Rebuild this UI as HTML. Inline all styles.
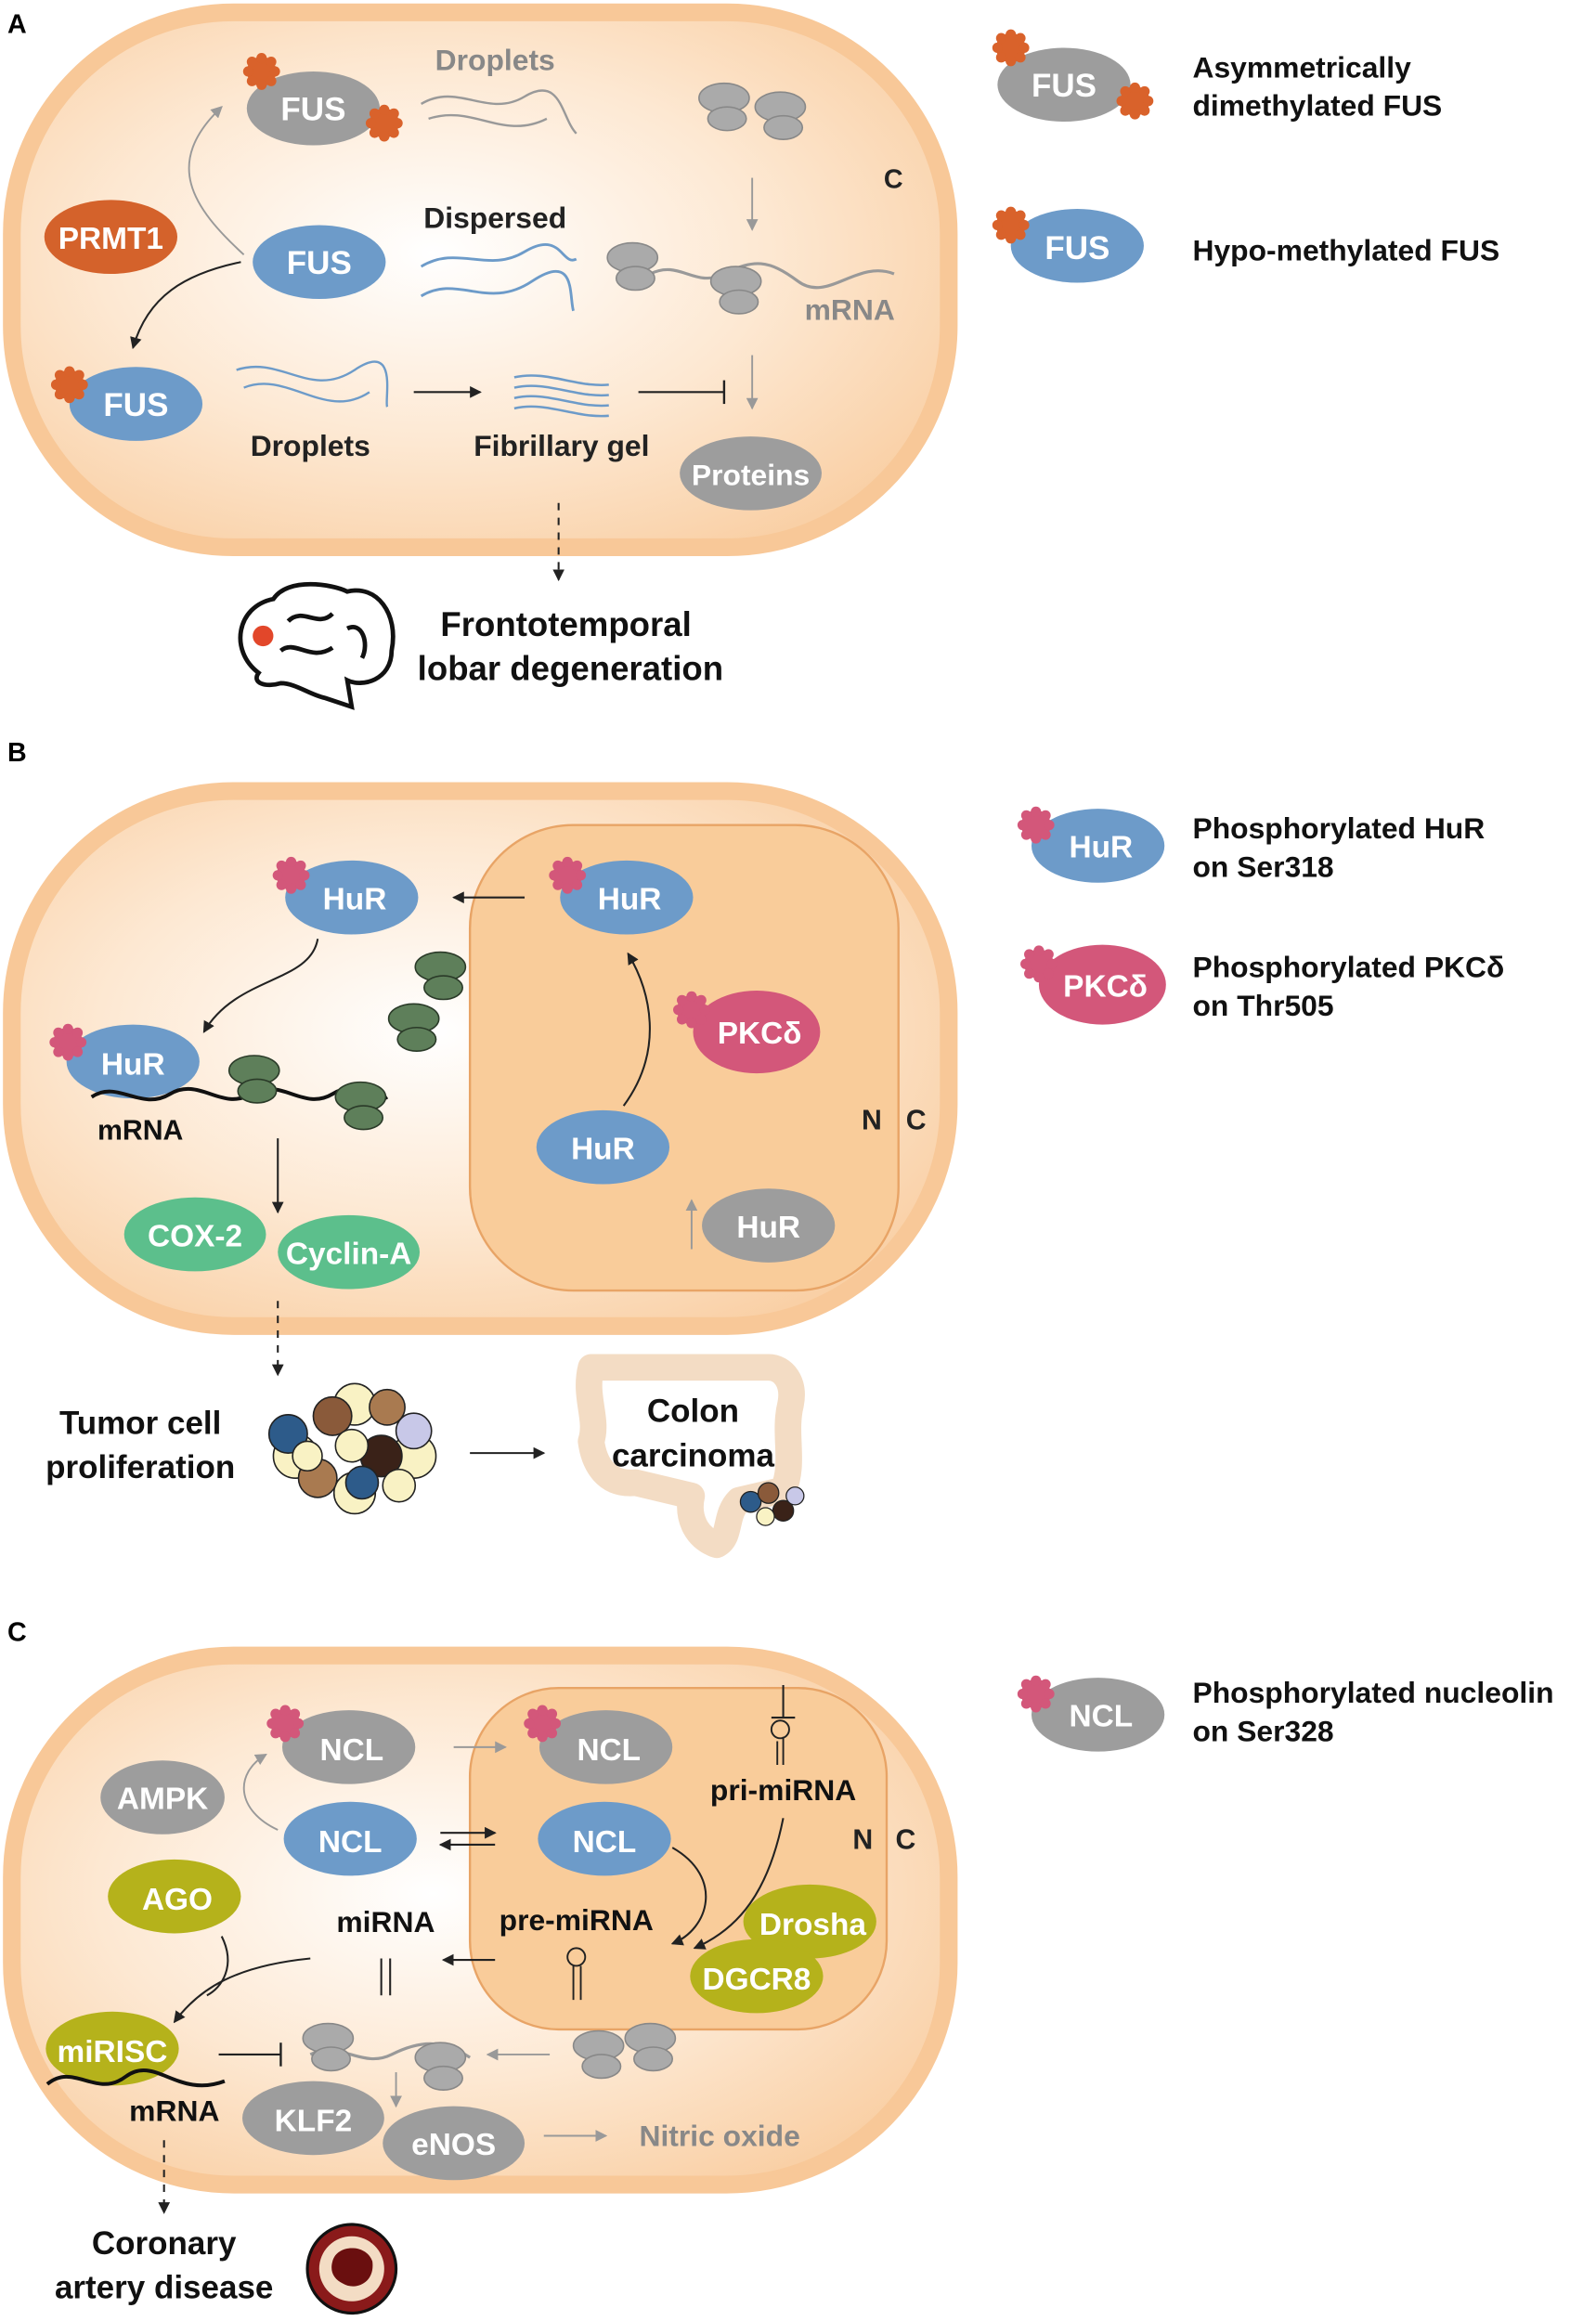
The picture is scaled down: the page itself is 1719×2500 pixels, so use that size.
<!DOCTYPE html>
<html><head><meta charset="utf-8"><style>
html,body{margin:0;padding:0;background:#fff}
svg{display:block}
text{font-family:"Liberation Sans",Arial,sans-serif;font-weight:bold}
</style></head><body>
<svg width="1719" height="2500" viewBox="0 0 1080 1570" xmlns="http://www.w3.org/2000/svg">
<defs>
<radialGradient id="cg" cx="0.45" cy="0.45" r="0.65">
<stop offset="0" stop-color="#ffffff"/><stop offset="0.55" stop-color="#fde8d2"/><stop offset="1" stop-color="#f9cfa4"/></radialGradient>
<marker id="ak" markerWidth="8" markerHeight="8" refX="7" refY="4" orient="auto" markerUnits="userSpaceOnUse"><path d="M0,0 L8,4 L0,8 z" fill="#222"/></marker>
<marker id="ag" markerWidth="8" markerHeight="8" refX="7" refY="4" orient="auto" markerUnits="userSpaceOnUse"><path d="M0,0 L8,4 L0,8 z" fill="#999"/></marker>
<g id="star"><circle r="10" fill="#d9622b"/><g fill="#d9622b"><circle cx="0" cy="-9" r="3.5"/><circle cx="9" cy="0" r="3.5"/><circle cx="0" cy="9" r="3.5"/><circle cx="-9" cy="0" r="3.5"/><circle cx="6.5" cy="6.5" r="3.5"/><circle cx="-6.5" cy="-6.5" r="3.5"/><circle cx="6.5" cy="-6.5" r="3.5"/><circle cx="-6.5" cy="6.5" r="3.5"/></g></g>
<g id="pstar"><circle r="10" fill="#d3577a"/><g fill="#d3577a"><circle cx="0" cy="-9" r="3.5"/><circle cx="9" cy="0" r="3.5"/><circle cx="0" cy="9" r="3.5"/><circle cx="-9" cy="0" r="3.5"/><circle cx="6.5" cy="6.5" r="3.5"/><circle cx="-6.5" cy="-6.5" r="3.5"/><circle cx="6.5" cy="-6.5" r="3.5"/><circle cx="-6.5" cy="6.5" r="3.5"/></g></g>
<g id="ribo"><ellipse cx="0" cy="-6" rx="17" ry="10" fill="#aaa" stroke="#888"/><ellipse cx="2" cy="8" rx="13" ry="8" fill="#aaa" stroke="#888"/></g>
<g id="gribo"><ellipse cx="0" cy="-6" rx="17" ry="10" fill="#5e7f5a" stroke="#2a3a28"/><ellipse cx="2" cy="8" rx="13" ry="8" fill="#5e7f5a" stroke="#2a3a28"/></g>
</defs>

<!-- PANEL A -->
<text x="5" y="22" font-size="18">A</text>
<rect x="8" y="8" width="634" height="362" rx="150" fill="url(#cg)" stroke="#f8c898" stroke-width="12"/>
<text x="598" y="127" font-size="18" fill="#222">C</text>
<ellipse cx="212" cy="73" rx="45" ry="25" fill="#9d9d9d"/><text x="212" y="81" font-size="22" fill="#fff" text-anchor="middle">FUS</text>
<use href="#star" x="177" y="48"/><use href="#star" x="260" y="83"/>
<text x="335" y="47" font-size="20" fill="#888" text-anchor="middle">Droplets</text>
<path d="M285,70 C310,55 330,80 355,65 S380,80 390,90 M290,80 C320,70 340,95 370,80" fill="none" stroke="#999" stroke-width="1.5"/>
<path d="M165,172 C130,140 110,110 150,72" fill="none" stroke="#999" stroke-width="1.2" marker-end="url(#ag)"/>
<ellipse cx="75" cy="160" rx="45" ry="25" fill="#d4622b"/><text x="75" y="168" font-size="21" fill="#fff" text-anchor="middle">PRMT1</text>
<ellipse cx="216" cy="177" rx="45" ry="25" fill="#6d9bc9"/><text x="216" y="185" font-size="22" fill="#fff" text-anchor="middle">FUS</text>
<path d="M163,177 C125,185 100,200 90,235" fill="none" stroke="#222" stroke-width="1.3" marker-end="url(#ak)"/>
<text x="335" y="154" font-size="20" fill="#222" text-anchor="middle">Dispersed</text>
<path d="M285,180 C310,165 330,185 355,170 S380,180 390,175 M285,200 C310,185 330,210 360,190 S385,200 388,210" fill="none" stroke="#6d9bc9" stroke-width="1.8"/>
<ellipse cx="92" cy="273" rx="45" ry="25" fill="#6d9bc9"/><text x="92" y="281" font-size="22" fill="#fff" text-anchor="middle">FUS</text>
<use href="#star" x="47" y="260"/>
<path d="M160,250 C190,240 210,270 240,250 S260,270 262,275 M165,262 C195,250 220,285 250,265" fill="none" stroke="#6d9bc9" stroke-width="1.5"/>
<text x="210" y="308" font-size="20" fill="#222" text-anchor="middle">Droplets</text>
<line x1="280" y1="265" x2="325" y2="265" stroke="#222" stroke-width="1.3" marker-end="url(#ak)"/>
<path d="M348,255 C370,250 390,262 412,260 M348,262 C370,257 390,269 412,267 M348,269 C370,264 390,276 412,274 M348,276 C370,271 390,283 412,281" fill="none" stroke="#6d9bc9" stroke-width="1.6"/>
<text x="380" y="308" font-size="20" fill="#222" text-anchor="middle">Fibrillary gel</text>
<line x1="432" y1="265" x2="490" y2="265" stroke="#222" stroke-width="1.3"/><line x1="490" y1="257" x2="490" y2="273" stroke="#222" stroke-width="1.5"/>
<use href="#ribo" x="490" y="72"/><use href="#ribo" x="528" y="78"/>
<line x1="509" y1="120" x2="509" y2="155" stroke="#999" stroke-width="1.2" marker-end="url(#ag)"/>
<path d="M440,185 C460,175 470,195 490,185 S520,175 540,190 S580,175 605,185" fill="none" stroke="#999" stroke-width="2"/>
<use href="#ribo" x="428" y="180"/><use href="#ribo" x="498" y="196"/>
<text x="575" y="216" font-size="20" fill="#888" text-anchor="middle">mRNA</text>
<line x1="509" y1="240" x2="509" y2="276" stroke="#999" stroke-width="1.2" marker-end="url(#ag)"/>
<ellipse cx="508" cy="320" rx="48" ry="25" fill="#9d9d9d"/><text x="508" y="328" font-size="20" fill="#fff" text-anchor="middle">Proteins</text>
<line x1="378" y1="340" x2="378" y2="392" stroke="#222" stroke-width="1.3" stroke-dasharray="5,5" marker-end="url(#ak)"/>
<g fill="none" stroke="#111" stroke-width="3"><path d="M175,455 C155,440 160,410 185,405 C195,390 225,395 235,400 C255,395 270,415 265,440 C265,460 245,465 235,460 L238,478 L220,472 C210,470 200,462 190,462 C180,465 170,462 175,455 Z"/><path d="M195,420 C205,410 215,425 225,415 M190,440 C200,432 210,448 225,438 M235,425 C245,420 250,435 245,445"/></g>
<circle cx="178" cy="430" r="7" fill="#e2472a"/>
<text x="383" y="430" font-size="23" fill="#111" text-anchor="middle">Frontotemporal</text>
<text x="386" y="460" font-size="23" fill="#111" text-anchor="middle">lobar degeneration</text>
<!-- legend A -->
<ellipse cx="720" cy="57" rx="45" ry="25" fill="#9d9d9d"/><text x="720" y="65" font-size="22" fill="#fff" text-anchor="middle">FUS</text>
<use href="#star" x="684" y="32"/><use href="#star" x="768" y="68"/>
<text x="807" y="52" font-size="20" fill="#111">Asymmetrically</text><text x="807" y="78" font-size="20" fill="#111">dimethylated FUS</text>
<ellipse cx="729" cy="166" rx="45" ry="25" fill="#6d9bc9"/><text x="729" y="175" font-size="22" fill="#fff" text-anchor="middle">FUS</text>
<use href="#star" x="684" y="152"/>
<text x="807" y="176" font-size="20" fill="#111">Hypo-methylated FUS</text>

<!-- PANEL B -->
<text x="5" y="515" font-size="18">B</text>
<rect x="8" y="535" width="634" height="362" rx="150" fill="url(#cg)" stroke="#f8c898" stroke-width="12"/>
<rect x="318" y="558" width="290" height="315" rx="70" fill="#f9cc9a" stroke="#e8a466" stroke-width="1.5"/>
<text x="583" y="764" font-size="19" fill="#222">N</text><text x="613" y="764" font-size="19" fill="#222">C</text>
<ellipse cx="238" cy="607" rx="45" ry="25" fill="#6d9bc9"/><text x="240" y="615" font-size="21" fill="#fff" text-anchor="middle">HuR</text><use href="#pstar" x="197" y="592"/>
<ellipse cx="424" cy="607" rx="45" ry="25" fill="#6d9bc9"/><text x="426" y="615" font-size="21" fill="#fff" text-anchor="middle">HuR</text><use href="#pstar" x="384" y="592"/>
<line x1="355" y1="607" x2="307" y2="607" stroke="#222" stroke-width="1.3" marker-end="url(#ak)"/>
<path d="M215,635 C210,665 160,660 138,698" fill="none" stroke="#222" stroke-width="1.3" marker-end="url(#ak)"/>
<use href="#gribo" x="298" y="660"/><use href="#gribo" x="280" y="695"/>
<ellipse cx="90" cy="718" rx="45" ry="25" fill="#6d9bc9"/><text x="90" y="727" font-size="21" fill="#fff" text-anchor="middle">HuR</text><use href="#pstar" x="46" y="705"/>
<path d="M62,742 C80,730 95,752 115,740 S150,752 170,740 S205,752 225,740 S250,750 262,742" fill="none" stroke="#111" stroke-width="2.5"/>
<use href="#gribo" x="172" y="730"/><use href="#gribo" x="244" y="748"/>
<text x="95" y="771" font-size="19" fill="#111" text-anchor="middle">mRNA</text>
<line x1="188" y1="770" x2="188" y2="820" stroke="#222" stroke-width="1.3" marker-end="url(#ak)"/>
<ellipse cx="132" cy="835" rx="48" ry="25" fill="#5cbf8c"/><text x="132" y="843" font-size="21" fill="#fff" text-anchor="middle">COX-2</text>
<ellipse cx="236" cy="847" rx="48" ry="25" fill="#5cbf8c"/><text x="236" y="855" font-size="21" fill="#fff" text-anchor="middle">Cyclin-A</text>
<ellipse cx="512" cy="698" rx="43" ry="28" fill="#d3577a"/><text x="514" y="706" font-size="21" fill="#fff" text-anchor="middle">PKCδ</text><use href="#pstar" x="468" y="683"/>
<ellipse cx="408" cy="776" rx="45" ry="25" fill="#6d9bc9"/><text x="408" y="784" font-size="21" fill="#fff" text-anchor="middle">HuR</text>
<path d="M422,748 C450,710 440,670 425,645" fill="none" stroke="#222" stroke-width="1.3" marker-end="url(#ak)"/>
<ellipse cx="520" cy="829" rx="45" ry="25" fill="#9d9d9d"/><text x="520" y="837" font-size="21" fill="#fff" text-anchor="middle">HuR</text>
<line x1="468" y1="845" x2="468" y2="812" stroke="#999" stroke-width="1.2" marker-end="url(#ag)"/>
<line x1="188" y1="880" x2="188" y2="930" stroke="#222" stroke-width="1.3" stroke-dasharray="5,5" marker-end="url(#ak)"/>
<text x="95" y="970" font-size="22" fill="#111" text-anchor="middle">Tumor cell</text><text x="95" y="1000" font-size="22" fill="#111" text-anchor="middle">proliferation</text>
<g stroke="#222" stroke-width="1">
<circle cx="200" cy="985" r="15" fill="#f9f2c4"/><circle cx="280" cy="985" r="15" fill="#f9f2c4"/><circle cx="240" cy="950" r="14" fill="#f9f2c4"/><circle cx="240" cy="1010" r="14" fill="#f9f2c4"/>
<circle cx="195" cy="970" r="13" fill="#2d5b8a"/><circle cx="215" cy="1000" r="13" fill="#a97a50"/><circle cx="225" cy="958" r="13" fill="#8a5a3a"/>
<circle cx="258" cy="985" r="14" fill="#3a2218"/><circle cx="280" cy="968" r="12" fill="#c8c8e8"/><circle cx="245" cy="1003" r="11" fill="#2d5b8a"/><circle cx="262" cy="952" r="12" fill="#a97a50"/><circle cx="238" cy="978" r="11" fill="#f9f2c4"/><circle cx="270" cy="1005" r="11" fill="#f9f2c4"/><circle cx="208" cy="985" r="10" fill="#f9f2c4"/></g>
<line x1="318" y1="983" x2="368" y2="983" stroke="#222" stroke-width="1.3" marker-end="url(#ak)"/>
<path d="M400,925 C395,945 405,960 400,975 C402,990 410,1005 430,1003 L468,1012 C465,1025 470,1040 485,1045 C495,1040 490,1025 500,1015 L530,1008 C538,990 530,970 535,950 C538,935 530,925 520,925 L420,925 Z" fill="none" stroke="#f3dcc4" stroke-width="18" stroke-linejoin="round"/>
<text x="469" y="962" font-size="22" fill="#111" text-anchor="middle">Colon</text><text x="469" y="992" font-size="22" fill="#111" text-anchor="middle">carcinoma</text>
<g stroke="#222" stroke-width="0.8"><circle cx="508" cy="1016" r="7" fill="#2d5b8a"/><circle cx="520" cy="1010" r="7" fill="#8a5a3a"/><circle cx="530" cy="1022" r="7" fill="#3a2218"/><circle cx="538" cy="1012" r="6" fill="#c8c8e8"/><circle cx="518" cy="1026" r="6" fill="#f9f2c4"/></g>
<!-- legend B -->
<ellipse cx="743" cy="572" rx="45" ry="25" fill="#6d9bc9"/><text x="745" y="580" font-size="21" fill="#fff" text-anchor="middle">HuR</text><use href="#pstar" x="701" y="558"/>
<text x="807" y="567" font-size="20" fill="#111">Phosphorylated HuR</text><text x="807" y="593" font-size="20" fill="#111">on Ser318</text>
<ellipse cx="746" cy="666" rx="43" ry="27" fill="#d3577a"/><text x="748" y="674" font-size="21" fill="#fff" text-anchor="middle">PKCδ</text><use href="#pstar" x="703" y="652"/>
<text x="807" y="661" font-size="20" fill="#111">Phosphorylated PKCδ</text><text x="807" y="687" font-size="20" fill="#111">on Thr505</text>

<!-- PANEL C -->
<text x="5" y="1110" font-size="18">C</text>
<rect x="8" y="1120" width="634" height="358" rx="150" fill="url(#cg)" stroke="#f8c898" stroke-width="12"/>
<rect x="318" y="1142" width="282" height="231" rx="60" fill="#f9cc9a" stroke="#e8a466" stroke-width="1.5"/>
<text x="577" y="1251" font-size="19" fill="#222">N</text><text x="606" y="1251" font-size="19" fill="#222">C</text>
<ellipse cx="236" cy="1182" rx="45" ry="25" fill="#9d9d9d"/><text x="238" y="1191" font-size="21" fill="#fff" text-anchor="middle">NCL</text><use href="#pstar" x="193" y="1166"/>
<ellipse cx="410" cy="1182" rx="45" ry="25" fill="#9d9d9d"/><text x="412" y="1191" font-size="21" fill="#fff" text-anchor="middle">NCL</text><use href="#pstar" x="367" y="1166"/>
<line x1="307" y1="1182" x2="342" y2="1182" stroke="#999" stroke-width="1.2" marker-end="url(#ag)"/>
<ellipse cx="110" cy="1216" rx="42" ry="25" fill="#9d9d9d"/><text x="110" y="1224" font-size="21" fill="#fff" text-anchor="middle">AMPK</text>
<path d="M188,1238 C160,1225 158,1200 180,1187" fill="none" stroke="#999" stroke-width="1.2" marker-end="url(#ag)"/>
<ellipse cx="237" cy="1244" rx="45" ry="25" fill="#6d9bc9"/><text x="237" y="1253" font-size="21" fill="#fff" text-anchor="middle">NCL</text>
<ellipse cx="409" cy="1244" rx="45" ry="25" fill="#6d9bc9"/><text x="409" y="1253" font-size="21" fill="#fff" text-anchor="middle">NCL</text>
<line x1="298" y1="1240" x2="335" y2="1240" stroke="#222" stroke-width="1.3" marker-end="url(#ak)"/>
<line x1="335" y1="1248" x2="298" y2="1248" stroke="#222" stroke-width="1.3" marker-end="url(#ak)"/>
<path d="M530,1140 L530,1162 M522,1162 L538,1162" stroke="#222" stroke-width="1.3" fill="none"/>
<path d="M530,1194 L530,1175 M526,1194 L526,1178" stroke="#222" stroke-width="1.2" fill="none"/><circle cx="528" cy="1170" r="6" fill="none" stroke="#222" stroke-width="1.2"/>
<text x="530" y="1218" font-size="20" fill="#111" text-anchor="middle">pri-miRNA</text>
<path d="M455,1250 C490,1270 480,1305 455,1315" fill="none" stroke="#222" stroke-width="1.3" marker-end="url(#ak)"/>
<path d="M530,1230 C520,1280 500,1305 470,1318" fill="none" stroke="#222" stroke-width="1.3" marker-end="url(#ak)"/>
<ellipse cx="548" cy="1300" rx="45" ry="25" fill="#b5b21b"/><text x="550" y="1309" font-size="21" fill="#fff" text-anchor="middle">Drosha</text>
<ellipse cx="512" cy="1337" rx="45" ry="25" fill="#b5b21b"/><text x="512" y="1346" font-size="21" fill="#fff" text-anchor="middle">DGCR8</text>
<text x="390" y="1306" font-size="20" fill="#111" text-anchor="middle">pre-miRNA</text>
<path d="M388,1353 L388,1330 M393,1353 L393,1330" stroke="#222" stroke-width="1.2" fill="none"/><circle cx="390" cy="1324" r="6" fill="none" stroke="#222" stroke-width="1.2"/>
<line x1="335" y1="1326" x2="300" y2="1326" stroke="#222" stroke-width="1.3" marker-end="url(#ak)"/>
<text x="261" y="1307" font-size="20" fill="#111" text-anchor="middle">miRNA</text>
<path d="M258,1325 L258,1350 M264,1325 L264,1350" stroke="#222" stroke-width="1.3"/>
<ellipse cx="118" cy="1283" rx="45" ry="25" fill="#b5b21b"/><text x="120" y="1292" font-size="21" fill="#fff" text-anchor="middle">AGO</text>
<path d="M210,1325 C160,1330 135,1345 118,1368" fill="none" stroke="#222" stroke-width="1.3" marker-end="url(#ak)"/>
<path d="M150,1310 C160,1330 150,1345 140,1350" fill="none" stroke="#222" stroke-width="1.3"/>
<ellipse cx="76" cy="1386" rx="45" ry="25" fill="#b5b21b"/><text x="76" y="1395" font-size="21" fill="#fff" text-anchor="middle">miRISC</text>
<path d="M32,1410 C50,1395 65,1420 85,1405 S120,1420 152,1408" fill="none" stroke="#111" stroke-width="2.5"/>
<text x="118" y="1435" font-size="20" fill="#111" text-anchor="middle">mRNA</text>
<line x1="148" y1="1390" x2="190" y2="1390" stroke="#222" stroke-width="1.3"/><line x1="190" y1="1382" x2="190" y2="1398" stroke="#222" stroke-width="1.5"/>
<path d="M210,1390 C230,1380 245,1400 265,1390 S300,1380 318,1392" fill="none" stroke="#999" stroke-width="2"/>
<use href="#ribo" x="222" y="1385"/><use href="#ribo" x="298" y="1398"/>
<use href="#ribo" x="405" y="1390"/><use href="#ribo" x="440" y="1385"/>
<line x1="372" y1="1390" x2="330" y2="1390" stroke="#999" stroke-width="1.2" marker-end="url(#ag)"/>
<line x1="268" y1="1402" x2="268" y2="1425" stroke="#999" stroke-width="1.2" marker-end="url(#ag)"/>
<ellipse cx="212" cy="1433" rx="48" ry="25" fill="#9d9d9d"/><text x="212" y="1442" font-size="21" fill="#fff" text-anchor="middle">KLF2</text>
<ellipse cx="307" cy="1450" rx="48" ry="25" fill="#9d9d9d"/><text x="307" y="1458" font-size="21" fill="#fff" text-anchor="middle">eNOS</text>
<line x1="368" y1="1445" x2="410" y2="1445" stroke="#999" stroke-width="1.2" marker-end="url(#ag)"/>
<text x="487" y="1452" font-size="20" fill="#888" text-anchor="middle">Nitric oxide</text>
<line x1="111" y1="1448" x2="111" y2="1497" stroke="#222" stroke-width="1.3" stroke-dasharray="5,5" marker-end="url(#ak)"/>
<text x="111" y="1525" font-size="22" fill="#111" text-anchor="middle">Coronary</text><text x="111" y="1555" font-size="22" fill="#111" text-anchor="middle">artery disease</text>
<circle cx="238" cy="1535" r="30" fill="#8a1a1a" stroke="#111" stroke-width="2"/><circle cx="238" cy="1535" r="22" fill="#f3dcc4"/><path d="M225,1530 C228,1518 248,1518 252,1530 C254,1545 240,1550 232,1545 C226,1542 223,1537 225,1530 Z" fill="#6a0f0f"/>
<!-- legend C -->
<ellipse cx="743" cy="1160" rx="45" ry="25" fill="#9d9d9d"/><text x="745" y="1168" font-size="21" fill="#fff" text-anchor="middle">NCL</text><use href="#pstar" x="701" y="1146"/>
<text x="807" y="1152" font-size="20" fill="#111">Phosphorylated nucleolin</text><text x="807" y="1178" font-size="20" fill="#111">on Ser328</text>
</svg>
</body></html>
